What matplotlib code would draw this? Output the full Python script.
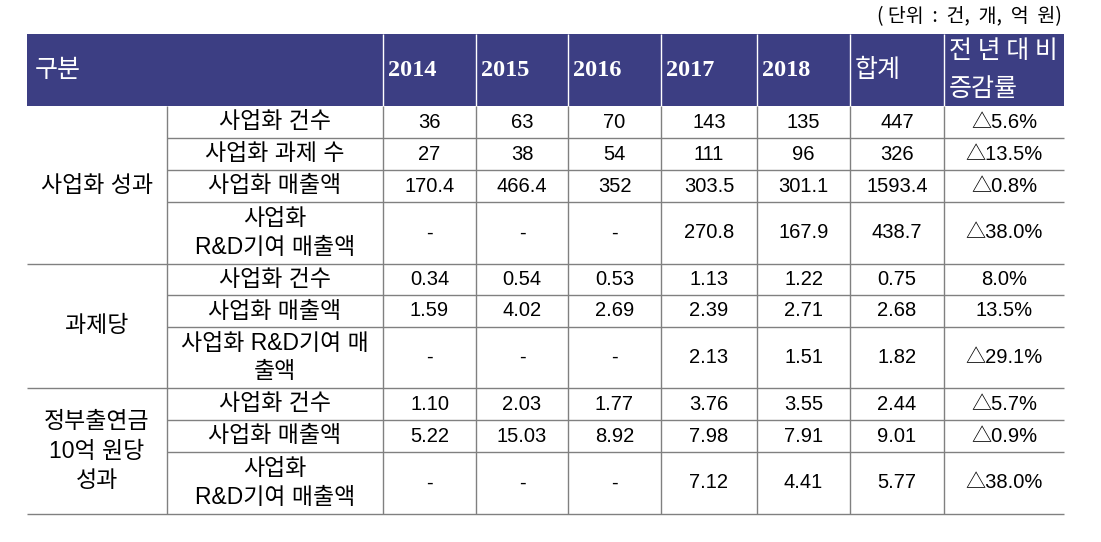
import matplotlib.pyplot as plt

plt.rcParams['font.family'] = ['Liberation Sans', 'Noto Sans CJK KR', 'DejaVu Sans']

# 표 데이터
연도 = ["2014", "2015", "2016", "2017", "2018"]
헤더_합계 = "합계"
헤더_증감 = "전 년 대 비\n증감률"
단위 = "( 단위  :  건,  개,  억  원)"

그룹 = ["사업화 성과", "과제당", "정부출연금\n10억 원당\n성과"]
그룹_행수 = [4, 3, 3]

항목 = ["사업화 건수", "사업화 과제 수", "사업화 매출액", "사업화\nR&D기여 매출액",
        "사업화 건수", "사업화 매출액", "사업화 R&D기여 매\n출액",
        "사업화 건수", "사업화 매출액", "사업화\nR&D기여 매출액"]

값 = [
    ["36", "63", "70", "143", "135", "447", "△5.6%"],
    ["27", "38", "54", "111", "96", "326", "△13.5%"],
    ["170.4", "466.4", "352", "303.5", "301.1", "1593.4", "△0.8%"],
    ["-", "-", "-", "270.8", "167.9", "438.7", "△38.0%"],
    ["0.34", "0.54", "0.53", "1.13", "1.22", "0.75", "8.0%"],
    ["1.59", "4.02", "2.69", "2.39", "2.71", "2.68", "13.5%"],
    ["-", "-", "-", "2.13", "1.51", "1.82", "△29.1%"],
    ["1.10", "2.03", "1.77", "3.76", "3.55", "2.44", "△5.7%"],
    ["5.22", "15.03", "8.92", "7.98", "7.91", "9.01", "△0.9%"],
    ["-", "-", "-", "7.12", "4.41", "5.77", "△38.0%"],
]

# 레이아웃 (픽셀)
x_left, x_sub, x_right = 27, 167, 1064
col_x = [383, 476, 568, 661, 757, 850, 944, 1064]
y_head_top, y_head_bot = 34, 106
row_y = [106, 138, 170, 202, 264, 295, 327, 388, 420, 452, 514]

head_color = '#3c3e83'
line_color = '#808080'

fig = plt.figure(figsize=(11.01, 5.42), dpi=100)
ax = fig.add_axes([0, 0, 1, 1])
ax.set_xlim(0, 1101)
ax.set_ylim(542, 0)
ax.axis('off')

# 헤더
ax.add_patch(plt.Rectangle((x_left, y_head_top), x_right - x_left, y_head_bot - y_head_top,
                           color=head_color, lw=0))
for cx in col_x[:-1]:
    ax.vlines(cx, y_head_top, y_head_bot, color='white', lw=1)
ym = (y_head_top + y_head_bot) / 2
ax.text(35, ym, "구분", color='white', fontsize=18, va='center', ha='left',
        family=['Noto Sans CJK KR'])
for i, y in enumerate(연도):
    ax.text(col_x[i] + 5, ym + 1, y, color='white', fontsize=17.5, fontweight='bold',
            va='center', ha='left', family=['Liberation Serif'])
ax.text(col_x[5] + 5, ym, 헤더_합계, color='white', fontsize=18, va='center', ha='left',
        family=['Noto Sans CJK KR'])
ax.text(col_x[6] + 5, ym, 헤더_증감, color='white', fontsize=18, va='center', ha='left',
        linespacing=1.65, family=['Noto Sans CJK KR'])

ax.text(1062, 17, 단위, fontsize=14, ha='right', va='center', family=['Noto Sans CJK KR'])

# 본문 선
ax.vlines([x_sub] + col_x[:-1], row_y[0], row_y[-1], color=line_color, lw=1)
grp_edges = [0]
for n in 그룹_행수:
    grp_edges.append(grp_edges[-1] + n)
for k, yy in enumerate(row_y[1:], start=1):
    start = x_left if k in grp_edges else x_sub
    ax.hlines(yy, start, x_right, color=line_color, lw=1)

# 그룹 라벨
for g, lab in enumerate(그룹):
    y0, y1 = row_y[grp_edges[g]], row_y[grp_edges[g + 1]]
    ax.text((x_left + x_sub) / 2, (y0 + y1) / 2, lab, fontsize=16.5, ha='center',
            va='center', linespacing=1.35)

# 항목 및 값
for r in range(len(항목)):
    yc = (row_y[r] + row_y[r + 1]) / 2
    ax.text((x_sub + col_x[0]) / 2, yc, 항목[r], fontsize=16.5, ha='center',
            va='center', linespacing=1.3)
    for c, v in enumerate(값[r]):
        ax.text((col_x[c] + col_x[c + 1]) / 2, yc, v, fontsize=14.5, ha='center', va='center')

fig.savefig('out.png', dpi=100)
